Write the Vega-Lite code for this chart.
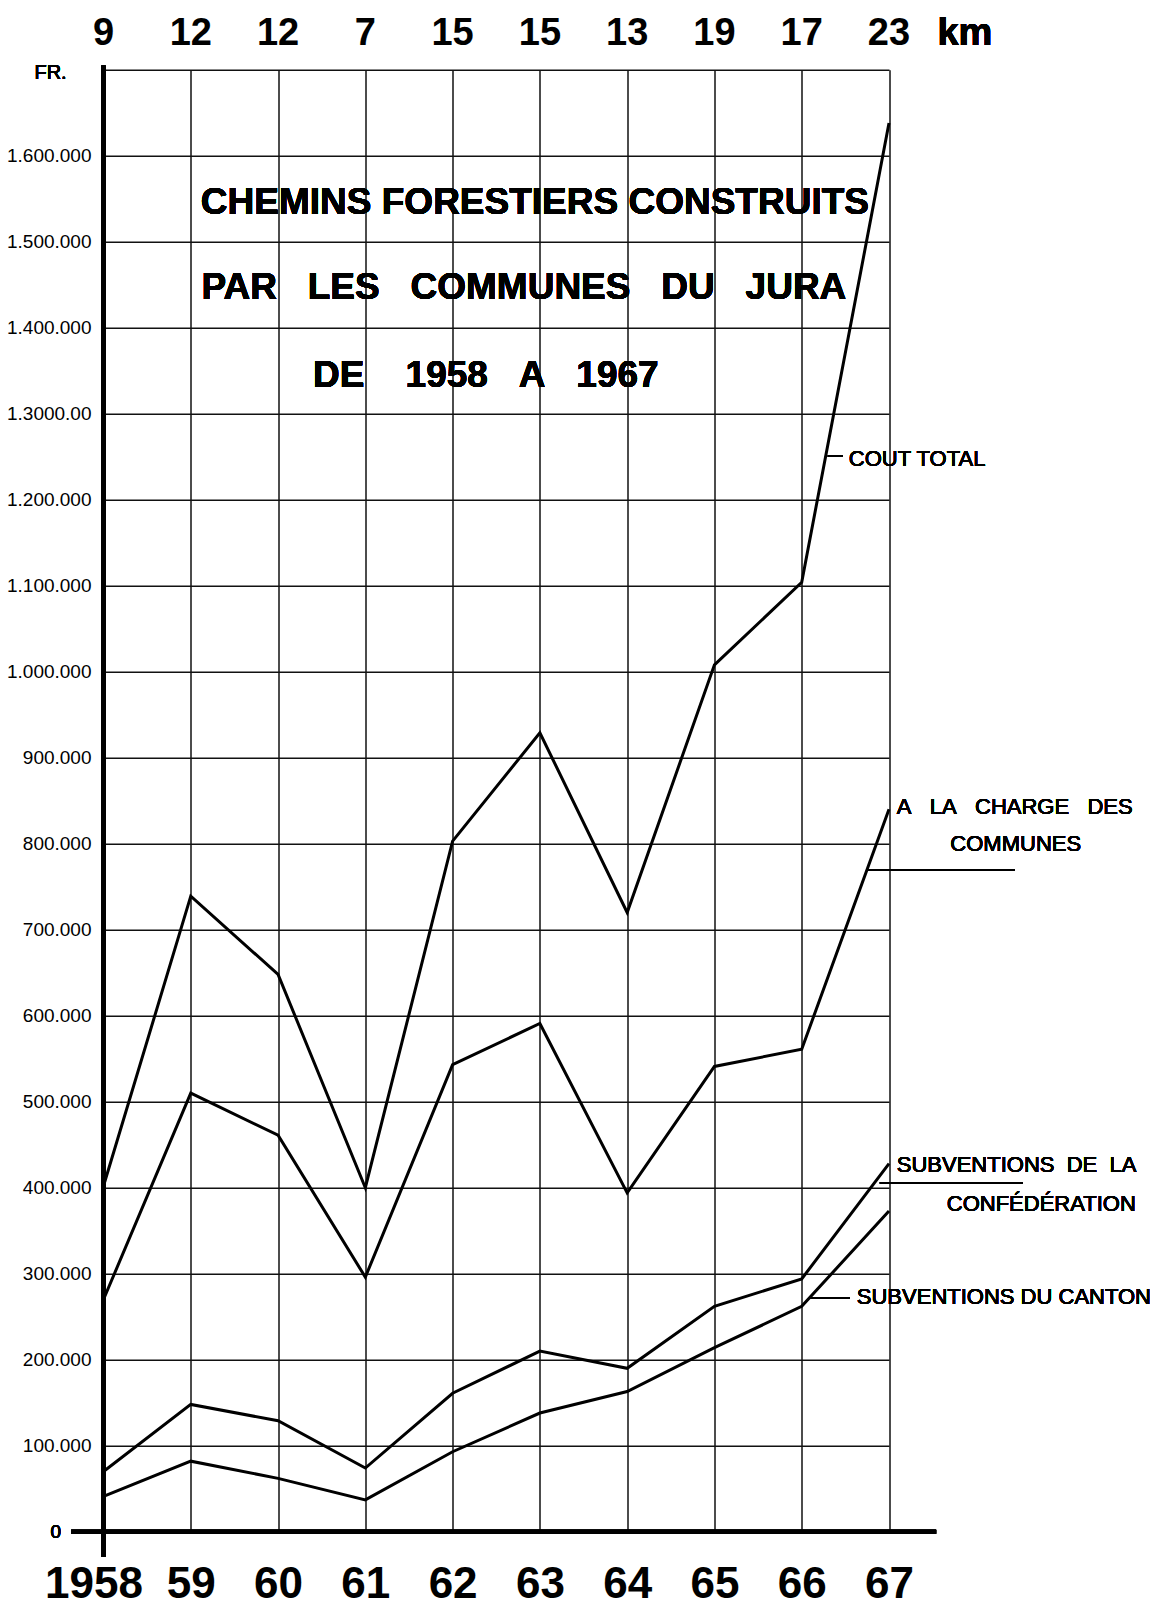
{
  "$schema": "https://vega.github.io/schema/vega-lite/v6.json",
  "width": 785.5,
  "height": 1462,
  "autosize": "none",
  "padding": {"left": 103.5, "top": 69.7, "right": 274, "bottom": 77.3},
  "background": "white",
  "config": {"view": {"stroke": null}},
  "data": {"values": [
    {"year": 1958, "total": 402000, "communes": 270000, "confederation": 70000, "canton": 41000, "km": "9"},
    {"year": 1959, "total": 739000, "communes": 510000, "confederation": 148000, "canton": 82000, "km": "12"},
    {"year": 1960, "total": 648000, "communes": 461000, "confederation": 129000, "canton": 62000, "km": "12"},
    {"year": 1961, "total": 400000, "communes": 296000, "confederation": 74000, "canton": 37000, "km": "7"},
    {"year": 1962, "total": 803000, "communes": 543000, "confederation": 161000, "canton": 93000, "km": "15"},
    {"year": 1963, "total": 929000, "communes": 591000, "confederation": 210000, "canton": 138000, "km": "15"},
    {"year": 1964, "total": 720000, "communes": 394000, "confederation": 190000, "canton": 163000, "km": "13"},
    {"year": 1965, "total": 1008000, "communes": 541000, "confederation": 262000, "canton": 214000, "km": "19"},
    {"year": 1966, "total": 1104000, "communes": 561000, "confederation": 294000, "canton": 262000, "km": "17"},
    {"year": 1967, "total": 1638000, "communes": 840000, "confederation": 428000, "canton": 373000, "km": "23"}
  ]},
  "layer": [
    {
      "transform": [{"fold": ["total", "communes", "confederation", "canton"], "as": ["series", "value"]}],
      "mark": {"type": "line", "color": "black", "strokeJoin": "miter"},
      "encoding": {
        "x": {"field": "year", "type": "quantitative",
          "scale": {"domain": [1958, 1967], "nice": false, "zero": false},
          "axis": {"values": [1958, 1959, 1960, 1961, 1962, 1963, 1964, 1965, 1966, 1967],
            "grid": true, "gridColor": "#111111", "gridWidth": 1.5, "domain": false, "ticks": false, "tickSize": 0,
            "labelExpr": "datum.value == 1958 ? '1958' : '' + (datum.value % 100)",
            "labelFont": "Liberation Sans", "labelFontWeight": "bold", "labelFontSize": 44, "labelColor": "black",
            "labelOffset": {"condition": {"test": "datum.value == 1958", "value": -10}, "value": 0},
            "labelPadding": 66, "labelBaseline": "alphabetic", "labelFlush": false, "labelOverlap": false, "labelBound": false, "title": null}},
        "y": {"field": "value", "type": "quantitative",
          "scale": {"domain": [0, 1700000], "nice": false, "zero": false},
          "axis": {"values": [0, 100000, 200000, 300000, 400000, 500000, 600000, 700000, 800000, 900000, 1000000, 1100000, 1200000, 1300000, 1400000, 1500000, 1600000, 1700000],
            "grid": true, "gridColor": "#111111", "gridWidth": 1.5, "domain": false, "ticks": false, "tickSize": 0,
            "labelExpr": "datum.value == 0 || datum.value == 1700000 ? '' : datum.value == 1300000 ? '1.3000.00' : replace(replace(format(datum.value, ','), ',', '.'), ',', '.')",
            "labelFont": "Liberation Sans", "labelFontSize": 19, "labelColor": "black",
            "labelPadding": 12.5, "labelFlush": false, "labelOverlap": false, "title": null}},
        "detail": {"field": "series"},
        "strokeWidth": {"field": "series", "type": "nominal",
          "scale": {"domain": ["total", "communes", "confederation", "canton"], "range": [3, 3, 4.8, 4]}, "legend": null}
      }
    },
    {
      "mark": {"type": "rule", "color": "black", "strokeWidth": 4},
      "encoding": {
        "x": {"datum": 1958, "type": "quantitative", "scale": {"domain": [1958, 1967], "nice": false, "zero": false}},
        "y": {"datum": 1705000, "type": "quantitative", "scale": {"domain": [0, 1700000], "nice": false, "zero": false}},
        "y2": {"datum": -29000}
      }
    },
    {
      "mark": {"type": "rule", "color": "black", "strokeWidth": 4},
      "encoding": {
        "x": {"datum": 1957.63, "type": "quantitative", "scale": {"domain": [1958, 1967], "nice": false, "zero": false}},
        "x2": {"datum": 1967.54},
        "y": {"datum": 0, "type": "quantitative", "scale": {"domain": [0, 1700000], "nice": false, "zero": false}}
      }
    },
    {
      "mark": {"type": "rule", "color": "black", "strokeWidth": 1.8},
      "encoding": {
        "x": {"datum": 1966.299, "type": "quantitative", "scale": {"domain": [1958, 1967], "nice": false, "zero": false}},
        "x2": {"datum": 1966.471},
        "y": {"datum": 1250800, "type": "quantitative", "scale": {"domain": [0, 1700000], "nice": false, "zero": false}}
      }
    },
    {
      "mark": {"type": "rule", "color": "black", "strokeWidth": 1.8},
      "encoding": {
        "x": {"datum": 1966.746, "type": "quantitative", "scale": {"domain": [1958, 1967], "nice": false, "zero": false}},
        "x2": {"datum": 1968.44},
        "y": {"datum": 769400, "type": "quantitative", "scale": {"domain": [0, 1700000], "nice": false, "zero": false}}
      }
    },
    {
      "mark": {"type": "rule", "color": "black", "strokeWidth": 1.8},
      "encoding": {
        "x": {"datum": 1966.895, "type": "quantitative", "scale": {"domain": [1958, 1967], "nice": false, "zero": false}},
        "x2": {"datum": 1968.533},
        "y": {"datum": 405500, "type": "quantitative", "scale": {"domain": [0, 1700000], "nice": false, "zero": false}}
      }
    },
    {
      "mark": {"type": "rule", "color": "black", "strokeWidth": 1.8},
      "encoding": {
        "x": {"datum": 1966.093, "type": "quantitative", "scale": {"domain": [1958, 1967], "nice": false, "zero": false}},
        "x2": {"datum": 1966.551},
        "y": {"datum": 271700, "type": "quantitative", "scale": {"domain": [0, 1700000], "nice": false, "zero": false}}
      }
    },
    {
      "mark": {"type": "text", "font": "Liberation Sans", "fontWeight": "bold", "fontSize": 38, "color": "black", "align": "center", "baseline": "middle"},
      "encoding": {
        "x": {"field": "year", "type": "quantitative", "scale": {"domain": [1958, 1967], "nice": false, "zero": false}},
        "y": {"datum": 1741500, "type": "quantitative", "scale": {"domain": [0, 1700000], "nice": false, "zero": false}},
        "text": {"field": "km"}
      }
    },
    {
      "mark": {"type": "text", "text": "km", "font": "Liberation Sans", "fontWeight": "bold", "fontSize": 38, "color": "black", "align": "center", "baseline": "middle"},
      "encoding": {
        "x": {"datum": 1967.87, "type": "quantitative", "scale": {"domain": [1958, 1967], "nice": false, "zero": false}},
        "y": {"datum": 1741500, "type": "quantitative", "scale": {"domain": [0, 1700000], "nice": false, "zero": false}}
      }
    },
    {
      "mark": {"type": "text", "text": "FR.", "font": "Liberation Sans", "fontSize": 20, "color": "black", "align": "center", "baseline": "middle"},
      "encoding": {
        "x": {"datum": 1957.393, "type": "quantitative", "scale": {"domain": [1958, 1967], "nice": false, "zero": false}},
        "y": {"datum": 1695600, "type": "quantitative", "scale": {"domain": [0, 1700000], "nice": false, "zero": false}}
      }
    },
    {
      "mark": {"type": "text", "text": "0", "font": "Liberation Sans", "fontSize": 19, "color": "black", "align": "right", "baseline": "middle"},
      "encoding": {
        "x": {"datum": 1957.513, "type": "quantitative", "scale": {"domain": [1958, 1967], "nice": false, "zero": false}},
        "y": {"datum": 0, "type": "quantitative", "scale": {"domain": [0, 1700000], "nice": false, "zero": false}}
      }
    },
    {
      "mark": {"type": "text", "text": "CHEMINS FORESTIERS CONSTRUITS", "font": "Liberation Sans", "fontWeight": "bold", "fontSize": 37, "color": "black", "align": "center", "baseline": "middle"},
      "encoding": {
        "x": {"datum": 1962.943, "type": "quantitative", "scale": {"domain": [1958, 1967], "nice": false, "zero": false}},
        "y": {"datum": 1545000, "type": "quantitative", "scale": {"domain": [0, 1700000], "nice": false, "zero": false}}
      }
    },
    {
      "mark": {"type": "text", "text": "PAR\u00a0\u00a0\u00a0LES\u00a0\u00a0\u00a0COMMUNES\u00a0\u00a0\u00a0DU\u00a0\u00a0\u00a0JURA", "font": "Liberation Sans", "fontWeight": "bold", "fontSize": 37, "color": "black", "align": "center", "baseline": "middle"},
      "encoding": {
        "x": {"datum": 1962.817, "type": "quantitative", "scale": {"domain": [1958, 1967], "nice": false, "zero": false}},
        "y": {"datum": 1446200, "type": "quantitative", "scale": {"domain": [0, 1700000], "nice": false, "zero": false}}
      }
    },
    {
      "mark": {"type": "text", "text": "DE\u00a0\u00a0\u00a0\u00a01958\u00a0\u00a0\u00a0A\u00a0\u00a0\u00a01967", "font": "Liberation Sans", "fontWeight": "bold", "fontSize": 37, "color": "black", "align": "center", "baseline": "middle"},
      "encoding": {
        "x": {"datum": 1962.381, "type": "quantitative", "scale": {"domain": [1958, 1967], "nice": false, "zero": false}},
        "y": {"datum": 1343800, "type": "quantitative", "scale": {"domain": [0, 1700000], "nice": false, "zero": false}}
      }
    },
    {
      "mark": {"type": "text", "text": "COUT TOTAL", "font": "Liberation Sans", "fontSize": 22, "color": "black", "align": "left", "baseline": "middle"},
      "encoding": {
        "x": {"datum": 1966.54, "type": "quantitative", "scale": {"domain": [1958, 1967], "nice": false, "zero": false}},
        "y": {"datum": 1247900, "type": "quantitative", "scale": {"domain": [0, 1700000], "nice": false, "zero": false}}
      }
    },
    {
      "mark": {"type": "text", "text": "A\u00a0\u00a0\u00a0LA\u00a0\u00a0\u00a0CHARGE\u00a0\u00a0\u00a0DES", "font": "Liberation Sans", "fontSize": 22, "color": "black", "align": "left", "baseline": "middle"},
      "encoding": {
        "x": {"datum": 1967.089, "type": "quantitative", "scale": {"domain": [1958, 1967], "nice": false, "zero": false}},
        "y": {"datum": 843000, "type": "quantitative", "scale": {"domain": [0, 1700000], "nice": false, "zero": false}}
      }
    },
    {
      "mark": {"type": "text", "text": "COMMUNES", "font": "Liberation Sans", "fontSize": 22, "color": "black", "align": "center", "baseline": "middle"},
      "encoding": {
        "x": {"datum": 1968.452, "type": "quantitative", "scale": {"domain": [1958, 1967], "nice": false, "zero": false}},
        "y": {"datum": 799700, "type": "quantitative", "scale": {"domain": [0, 1700000], "nice": false, "zero": false}}
      }
    },
    {
      "mark": {"type": "text", "text": "SUBVENTIONS\u00a0\u00a0DE\u00a0\u00a0LA", "font": "Liberation Sans", "fontSize": 22, "color": "black", "align": "left", "baseline": "middle"},
      "encoding": {
        "x": {"datum": 1967.089, "type": "quantitative", "scale": {"domain": [1958, 1967], "nice": false, "zero": false}},
        "y": {"datum": 426400, "type": "quantitative", "scale": {"domain": [0, 1700000], "nice": false, "zero": false}}
      }
    },
    {
      "mark": {"type": "text", "text": "CONFÉDÉRATION", "font": "Liberation Sans", "fontSize": 22, "color": "black", "align": "center", "baseline": "middle"},
      "encoding": {
        "x": {"datum": 1968.745, "type": "quantitative", "scale": {"domain": [1958, 1967], "nice": false, "zero": false}},
        "y": {"datum": 381000, "type": "quantitative", "scale": {"domain": [0, 1700000], "nice": false, "zero": false}}
      }
    },
    {
      "mark": {"type": "text", "text": "SUBVENTIONS DU CANTON", "font": "Liberation Sans", "fontSize": 22, "color": "black", "align": "left", "baseline": "middle"},
      "encoding": {
        "x": {"datum": 1966.631, "type": "quantitative", "scale": {"domain": [1958, 1967], "nice": false, "zero": false}},
        "y": {"datum": 272900, "type": "quantitative", "scale": {"domain": [0, 1700000], "nice": false, "zero": false}}
      }
    }
  ]
}
